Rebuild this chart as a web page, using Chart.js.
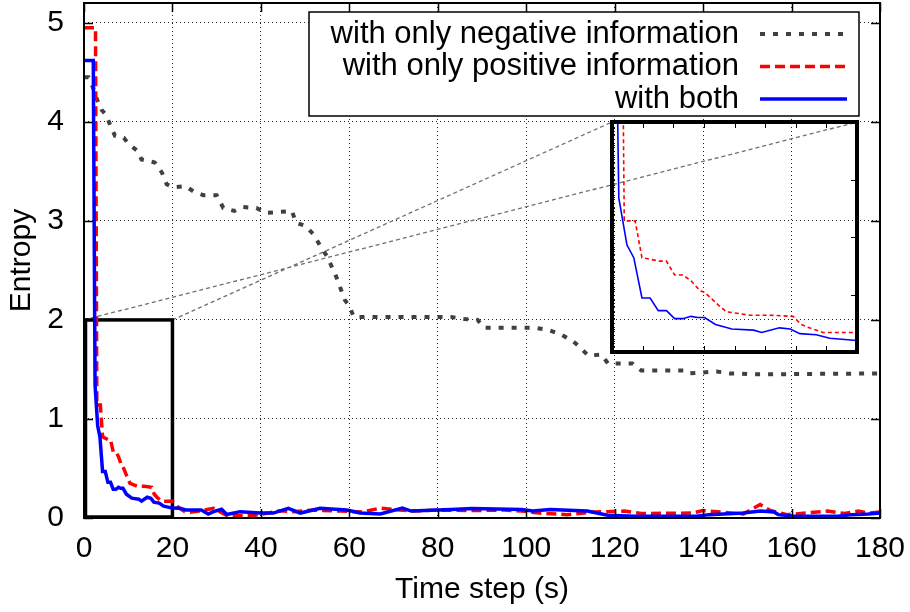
<!DOCTYPE html>
<html>
<head>
<meta charset="utf-8">
<script src="https://cdn.jsdelivr.net/npm/chart.js@4.4.1/dist/chart.umd.min.js"></script>
<style>
  html, body { margin: 0; padding: 0; background: #fff; }
  #wrap { position: relative; width: 910px; height: 612px; }
  #main { position: absolute; left: 0; top: 0; }
  #inset { position: absolute; left: 0; top: 0; }
</style>
</head>
<body>
<div id="wrap">
  <canvas id="main" width="910" height="612"></canvas>
  <canvas id="inset" width="10" height="10"></canvas>
</div>
<script>
// ---- data ----
const xTicks = [0, 20, 40, 60, 80, 100, 120, 140, 160, 180];
const yTicks = [0, 1, 2, 3, 4, 5];

const seriesNames = ['with only negative information', 'with only positive information', 'with both'];

const negTime = [0, 1, 2, 3, 4, 5, 6, 7, 9, 10, 12, 13, 16, 17.6, 18.7, 20, 23, 25, 27, 30, 31.5, 34, 36, 39, 41, 44, 47, 48, 50, 52, 53.5, 55, 56, 57, 58, 59, 60, 61, 83, 86, 89, 90.5, 102, 105, 108, 110.7, 112, 114, 117, 118.5, 124, 126, 136, 137, 143, 146, 148, 151, 180];
const negEntropy = [4.45, 4.45, 4.35, 4.22, 4.12, 4.07, 3.96, 3.86, 3.84, 3.78, 3.71, 3.62, 3.59, 3.49, 3.37, 3.34, 3.35, 3.29, 3.26, 3.26, 3.13, 3.10, 3.14, 3.13, 3.08, 3.09, 3.10, 2.98, 2.95, 2.86, 2.74, 2.64, 2.54, 2.44, 2.32, 2.20, 2.14, 2.03, 2.03, 2.01, 2.00, 1.92, 1.92, 1.90, 1.85, 1.78, 1.73, 1.64, 1.65, 1.56, 1.56, 1.49, 1.49, 1.46, 1.48, 1.46, 1.46, 1.45, 1.46];

const posTime = [0, 2.6, 2.9, 3.7, 4.2, 5.5, 6.0, 6.6, 7.2, 7.8, 8.5, 8.8, 9.8, 10.4, 11.0, 12.1, 13.6, 15.3, 15.9, 16.5, 17.5, 20, 21.5, 23.2, 26, 29.3, 32.3, 38.3, 41.3, 44.3, 47.3, 52, 58, 63, 67, 74, 80, 87.7, 95, 99, 103, 109.2, 115.3, 122.2, 126, 137.6, 139.9, 149.1, 152.9, 155.2, 159, 168.2, 172, 175.1, 177.4, 180];
const posEntropy = [4.95, 4.95, 1.14, 1.14, 0.82, 0.79, 0.79, 0.67, 0.67, 0.62, 0.53, 0.52, 0.41, 0.35, 0.34, 0.32, 0.32, 0.31, 0.24, 0.21, 0.17, 0.17, 0.10, 0.054, 0.07, 0.098, 0.025, 0.025, 0.047, 0.074, 0.064, 0.08, 0.07, 0.06, 0.10, 0.07, 0.08, 0.075, 0.08, 0.07, 0.05, 0.034, 0.06, 0.07, 0.045, 0.05, 0.075, 0.04, 0.137, 0.075, 0.034, 0.07, 0.045, 0.07, 0.05, 0.06];

const bothTime = [0, 2.1, 2.5, 3.1, 3.6, 4.2, 4.8, 5.4, 6.0, 6.6, 7.2, 7.8, 8.3, 8.8, 9.6, 10.8, 12.4, 13.0, 14.3, 15.1, 15.8, 17.0, 18.0, 20, 21.7, 23.2, 26.5, 28.1, 29.3, 31.1, 32.3, 35.3, 39.8, 42.8, 46.2, 48.9, 53.4, 59.4, 62.4, 67, 72, 74, 83, 87.7, 99, 101.5, 105.4, 113.8, 118.4, 124.5, 138.4, 141.4, 149, 153, 156, 157, 160.6, 170.5, 173.6, 177.4, 180];
const bothEntropy = [4.62, 4.62, 1.34, 0.93, 0.82, 0.47, 0.47, 0.36, 0.36, 0.29, 0.29, 0.31, 0.30, 0.30, 0.24, 0.20, 0.19, 0.17, 0.21, 0.20, 0.16, 0.15, 0.12, 0.10, 0.098, 0.08, 0.08, 0.04, 0.064, 0.088, 0.035, 0.064, 0.05, 0.05, 0.098, 0.05, 0.098, 0.08, 0.05, 0.04, 0.10, 0.07, 0.085, 0.096, 0.085, 0.07, 0.085, 0.07, 0.027, 0.017, 0.017, 0.034, 0.05, 0.07, 0.06, 0.034, 0.017, 0.017, 0.034, 0.04, 0.05];

// zoomed window (main data coords) and the inset's own axis range
const zoomX = [0, 20];
const zoomY = [0, 2];
const insetX = [2, 20];
const insetY = [0, 2];
// where the inset sits, in main data coords
const insetAtX = [119.5, 175];
const insetAtY = [1.68, 4.0];

// ---- styling ----
const FONT = "'Liberation Sans', Arial, Helvetica, sans-serif";
Chart.defaults.font.family = FONT;
Chart.defaults.color = '#000';

const pts = (xs, ys) => xs.map((x, i) => ({ x: x, y: ys[i] }));

const lineStyles = [
  { color: '#404040', width: 4, dash: [5, 8] },
  { color: '#ff0000', width: 3.5, dash: [10, 5] },
  { color: '#0000ff', width: 3.5, dash: [] }
];

function makeSet(i, xs, ys, thin) {
  const s = lineStyles[i];
  return {
    label: seriesNames[i],
    data: pts(xs, ys),
    borderColor: s.color,
    borderWidth: thin ? 1.6 : s.width,
    borderDash: thin ? (s.dash.length ? [4, 3] : []) : s.dash,
    borderCapStyle: 'butt',
    borderJoinStyle: 'miter',
    pointRadius: 0,
    tension: 0,
    fill: false,
    order: 2 - i
  };
}

// border, inward ticks, zoom box, connector lines, legend
const mainDecor = {
  id: 'mainDecor',
  beforeDatasetsDraw(chart) {
    const { ctx, scales: { x, y } } = chart;
    ctx.save();
    // connector lines from zoom box to inset
    const ix0 = x.getPixelForValue(insetAtX[0]), ix1 = x.getPixelForValue(insetAtX[1]);
    const iy1 = y.getPixelForValue(insetAtY[1]);
    ctx.strokeStyle = '#707070';
    ctx.lineWidth = 1.3;
    ctx.setLineDash([4, 3]);
    ctx.beginPath();
    ctx.moveTo(x.getPixelForValue(zoomX[0]), y.getPixelForValue(zoomY[1]));
    ctx.lineTo(ix1, iy1);
    ctx.moveTo(x.getPixelForValue(zoomX[1]), y.getPixelForValue(zoomY[1]));
    ctx.lineTo(ix0, iy1);
    ctx.stroke();
    // zoom box
    ctx.setLineDash([]);
    ctx.strokeStyle = '#000';
    ctx.lineWidth = 3.5;
    const bx0 = x.getPixelForValue(zoomX[0]) + 1.5, bx1 = x.getPixelForValue(zoomX[1]);
    const by0 = y.getPixelForValue(zoomY[0]) - 1, by1 = y.getPixelForValue(zoomY[1]);
    ctx.strokeRect(bx0, by1, bx1 - bx0, by0 - by1);
    ctx.restore();
  },
  afterDatasetsDraw(chart) {
    const { ctx, chartArea: a, scales: { x, y } } = chart;
    ctx.save();
    ctx.strokeStyle = '#000';
    ctx.lineWidth = 1.5;
    ctx.beginPath();
    const tl = 9;
    x.ticks.forEach(t => {
      const px = Math.round(x.getPixelForValue(t.value)) + 0.5;
      ctx.moveTo(px, a.bottom); ctx.lineTo(px, a.bottom - tl);
      ctx.moveTo(px, a.top); ctx.lineTo(px, a.top + tl);
    });
    y.ticks.forEach(t => {
      const py = Math.round(y.getPixelForValue(t.value)) + 0.5;
      ctx.moveTo(a.left, py); ctx.lineTo(a.left + tl, py);
      ctx.moveTo(a.right, py); ctx.lineTo(a.right - tl, py);
    });
    ctx.stroke();
    ctx.lineWidth = 2;
    ctx.strokeRect(a.left, a.top, a.right - a.left, a.bottom - a.top);
    ctx.restore();
  },
  afterDraw(chart) {
    const { ctx, chartArea: a } = chart;
    const right = a.right - 21, top = a.top + 9, w = 550, h = 104;
    ctx.save();
    ctx.fillStyle = '#fff';
    ctx.fillRect(right - w, top, w, h);
    ctx.strokeStyle = '#000';
    ctx.lineWidth = 1.5;
    ctx.strokeRect(right - w, top, w, h);
    ctx.font = '31px ' + FONT;
    ctx.textAlign = 'right';
    ctx.textBaseline = 'middle';
    chart.data.datasets.forEach((ds, i) => {
      const ry = top + 22 + i * 32.5;
      ctx.fillStyle = '#000';
      ctx.fillText(ds.label, right - w + 430, ry);
      ctx.strokeStyle = ds.borderColor;
      ctx.lineWidth = ds.borderWidth;
      ctx.lineCap = 'butt';
      ctx.setLineDash(ds.borderDash);
      ctx.beginPath();
      ctx.moveTo(right - 99, ry);
      ctx.lineTo(right - 12, ry);
      ctx.stroke();
    });
    ctx.restore();
  }
};

const mainChart = new Chart(document.getElementById('main'), {
  type: 'line',
  data: {
    datasets: [
      makeSet(0, negTime, negEntropy, false),
      makeSet(1, posTime, posEntropy, false),
      makeSet(2, bothTime, bothEntropy, false)
    ]
  },
  options: {
    responsive: false,
    animation: false,
    layout: { padding: { left: 0, top: 3, right: 30, bottom: 0 } },
    plugins: { legend: { display: false }, tooltip: { enabled: false } },
    scales: {
      x: {
        type: 'linear',
        min: 0, max: 180,
        afterBuildTicks: s => { s.ticks = xTicks.map(v => ({ value: v })); },
        afterFit: s => { s.height = 94; },
        ticks: { font: { size: 30 }, padding: 0, maxRotation: 0, color: '#000' },
        grid: { color: '#222', lineWidth: 1, drawTicks: true, tickLength: 13, tickColor: 'rgba(0,0,0,0)' },
        border: { display: false, dash: [1, 3] },
        title: { display: true, text: 'Time step (s)', font: { size: 30 }, color: '#000', padding: { top: 4, bottom: 4 } }
      },
      y: {
        type: 'linear',
        min: 0, max: 5.2,
        afterBuildTicks: s => { s.ticks = yTicks.map(v => ({ value: v })); },
        afterFit: s => { s.width = 84; },
        ticks: { font: { size: 30, lineHeight: 0.2 }, padding: 0, color: '#000' },
        grid: { color: '#222', lineWidth: 1, drawTicks: true, tickLength: 20, tickColor: 'rgba(0,0,0,0)' },
        border: { display: false, dash: [1, 3] },
        title: { display: true, text: 'Entropy', font: { size: 30 }, color: '#000', padding: { top: 4, bottom: 4 } }
      }
    }
  },
  plugins: [mainDecor]
});

// ---- inset ----
const mx = mainChart.scales.x, my = mainChart.scales.y;
const pad = 2;
const insetLeft = Math.round(mx.getPixelForValue(insetAtX[0])) - pad;
const insetTop = Math.round(my.getPixelForValue(insetAtY[1])) - pad;
const insetW = Math.round(mx.getPixelForValue(insetAtX[1]) - mx.getPixelForValue(insetAtX[0])) + 2 * pad;
const insetH = Math.round(my.getPixelForValue(insetAtY[0]) - my.getPixelForValue(insetAtY[1])) + 2 * pad;
const insetCanvas = document.getElementById('inset');
insetCanvas.width = insetW;
insetCanvas.height = insetH;
insetCanvas.style.left = insetLeft + 'px';
insetCanvas.style.top = insetTop + 'px';

const insetDecor = {
  id: 'insetDecor',
  afterDatasetsDraw(chart) {
    const { ctx, chartArea: a, scales: { x, y } } = chart;
    ctx.save();
    ctx.strokeStyle = '#000';
    ctx.lineWidth = 1;
    ctx.beginPath();
    x.ticks.forEach(t => {
      const px = Math.round(x.getPixelForValue(t.value)) + 0.5;
      ctx.moveTo(px, a.bottom); ctx.lineTo(px, a.bottom - 6);
      ctx.moveTo(px, a.top); ctx.lineTo(px, a.top + 6);
    });
    y.ticks.forEach(t => {
      const py = Math.round(y.getPixelForValue(t.value)) + 0.5;
      ctx.moveTo(a.right, py); ctx.lineTo(a.right - 6, py);
    });
    for (let k = 0; k <= 40; k++) {
      const py = Math.round(y.getPixelForValue(insetY[0] + (insetY[1] - insetY[0]) * k / 40)) + 0.5;
      ctx.moveTo(a.left, py); ctx.lineTo(a.left + 3, py);
    }
    ctx.stroke();
    ctx.lineWidth = 4;
    ctx.strokeRect(a.left, a.top, a.right - a.left, a.bottom - a.top);
    ctx.restore();
  }
};

new Chart(insetCanvas, {
  type: 'line',
  data: {
    datasets: [
      makeSet(1, posTime, posEntropy, true),
      makeSet(2, bothTime, bothEntropy, true)
    ]
  },
  options: {
    responsive: false,
    animation: false,
    layout: { padding: pad },
    plugins: { legend: { display: false }, tooltip: { enabled: false } },
    scales: {
      x: { type: 'linear', min: insetX[0], max: insetX[1], display: false, ticks: { count: 9 } },
      y: { type: 'linear', min: insetY[0], max: insetY[1], display: false, ticks: { stepSize: 0.5 } }
    }
  },
  plugins: [insetDecor]
});
</script>
</body>
</html>
